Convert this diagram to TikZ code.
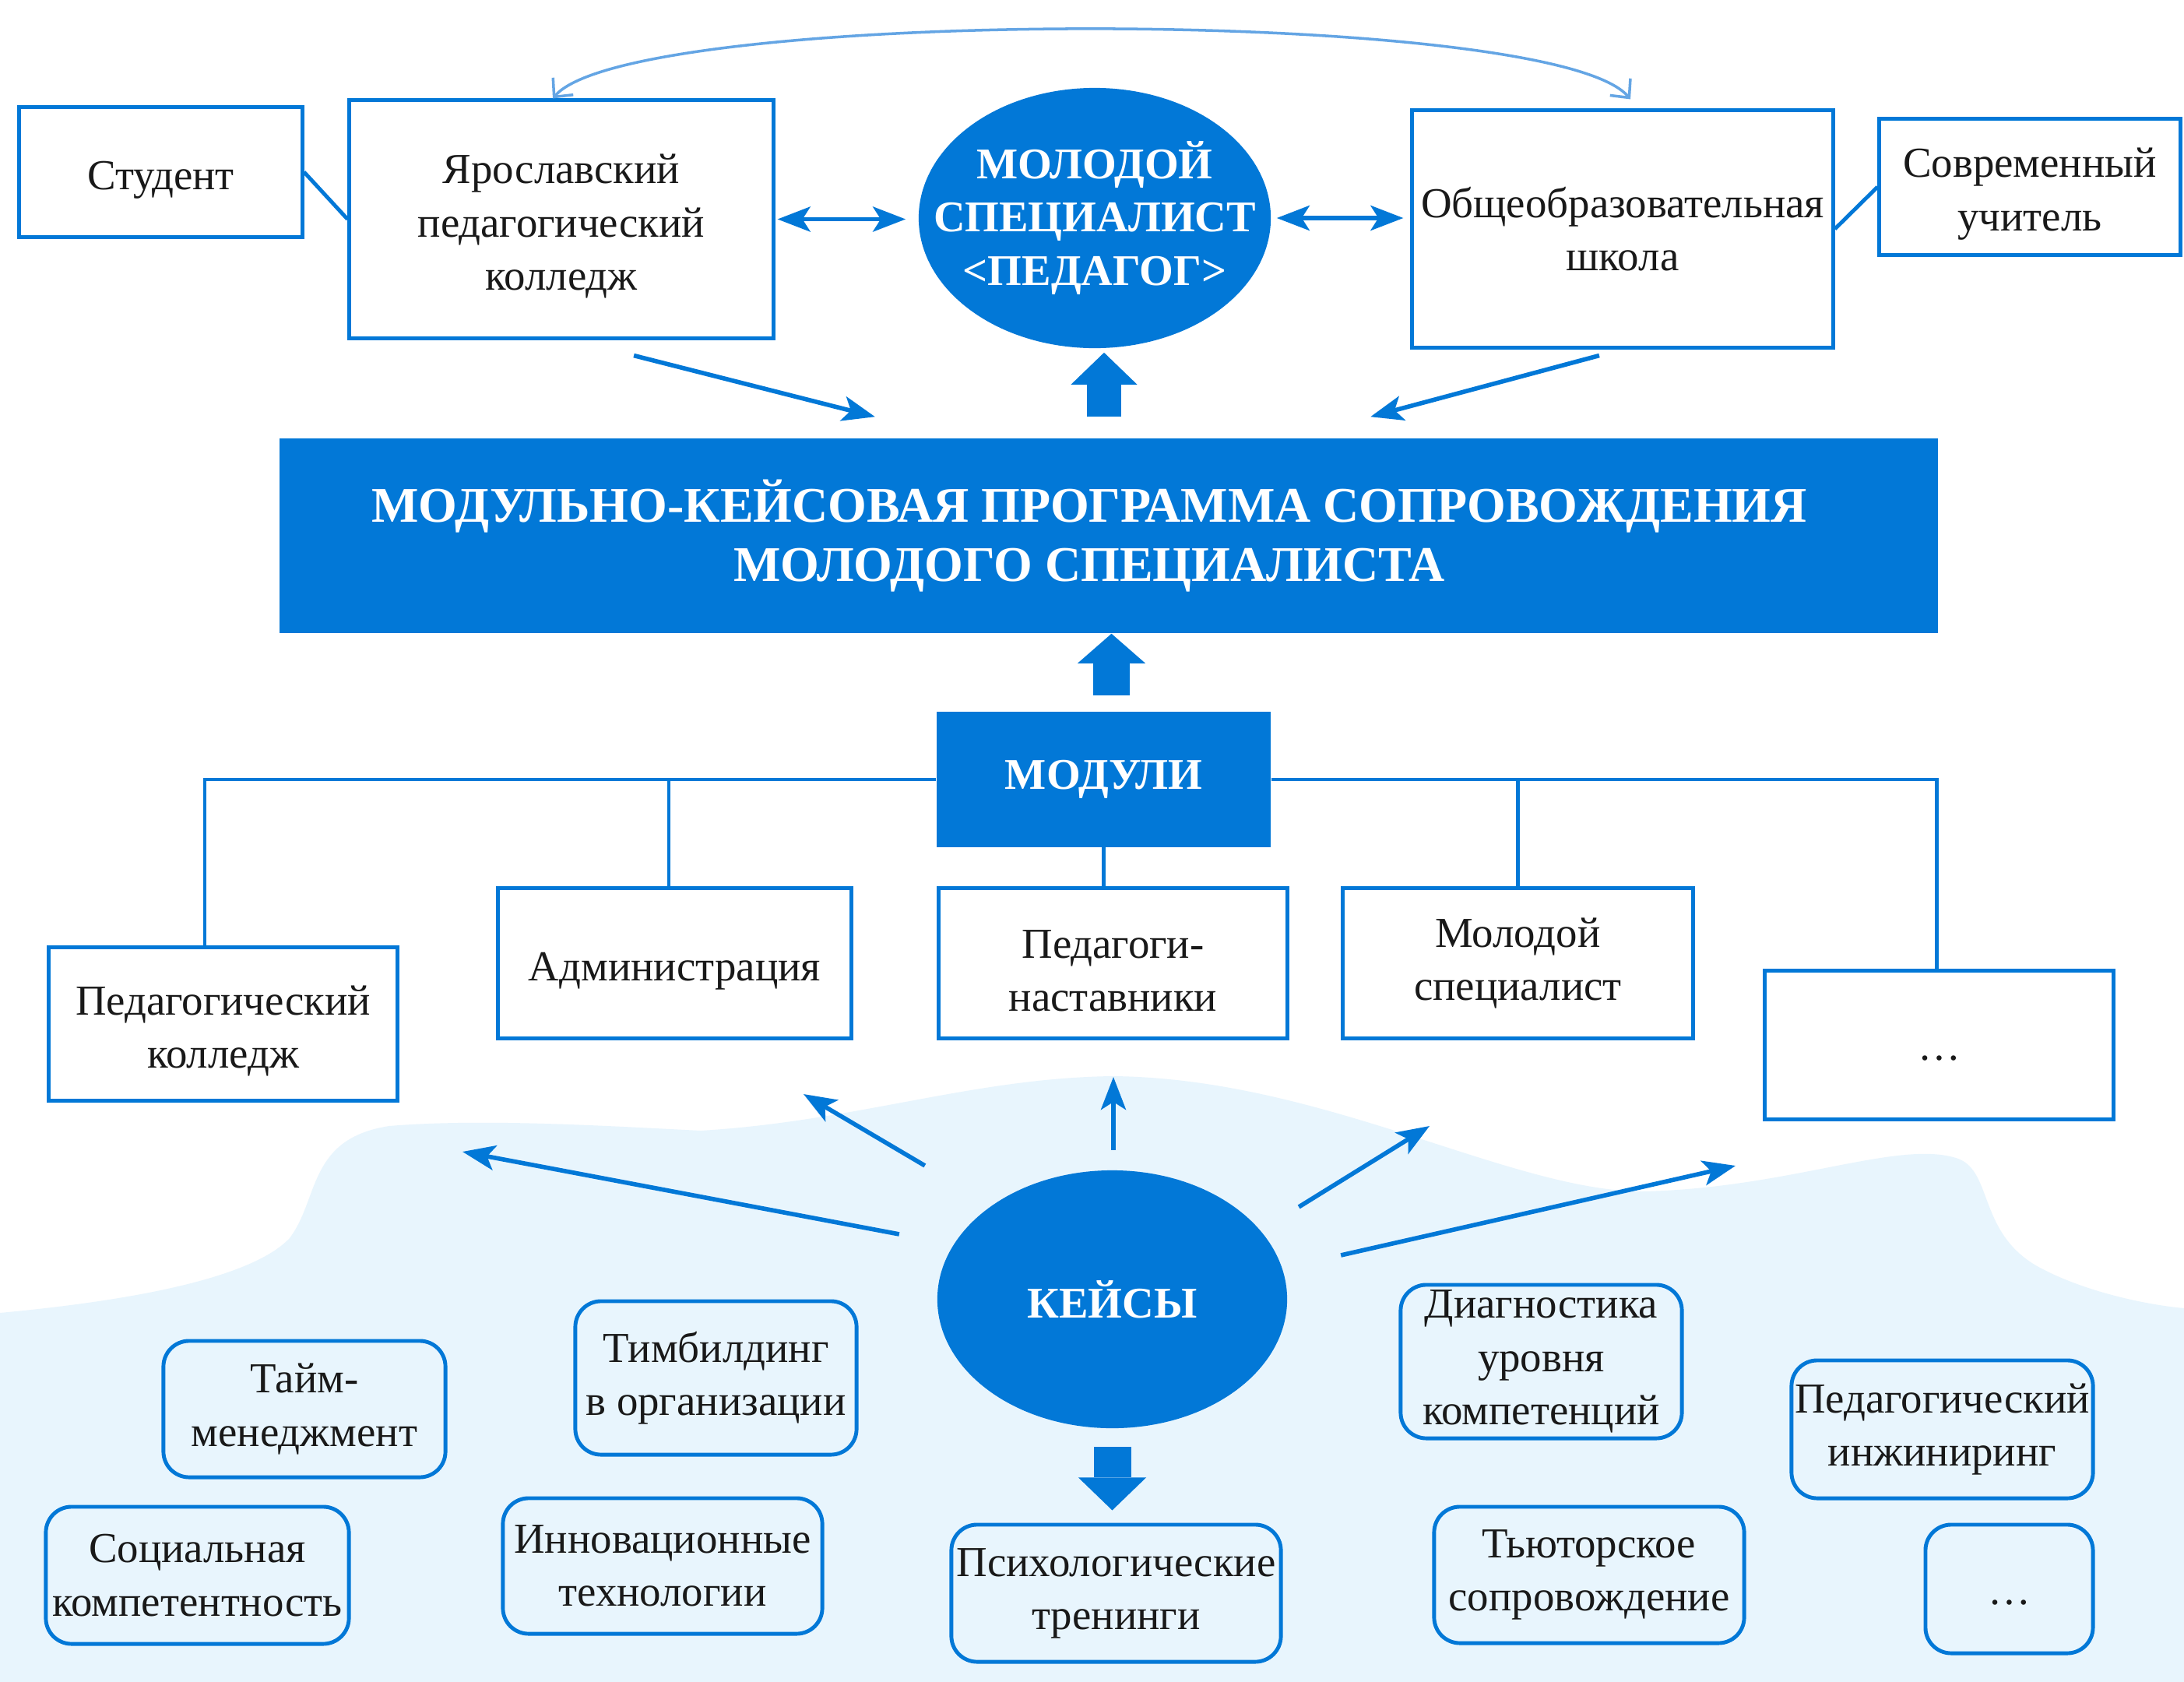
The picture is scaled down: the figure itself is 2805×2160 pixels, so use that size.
\documentclass[tikz,border=0pt]{standalone}
\usepackage{fontspec}
\setmainfont{Liberation Serif}
\usetikzlibrary{shapes.geometric,arrows.meta}
\definecolor{mblue}{RGB}{2,120,215}
\definecolor{cloudblue}{RGB}{232,245,253}
\definecolor{arcblue}{RGB}{100,165,228}
\definecolor{txt}{RGB}{25,25,25}
\newcommand\mytxt{\fontsize{15.6pt}{19.4pt}\selectfont}
\newcommand\mybold{\fontsize{16pt}{19.4pt}\selectfont\bfseries}
\newcommand\mybanner{\fontsize{18.2pt}{21.6pt}\selectfont\bfseries}
\newcommand\sA{\rule{0pt}{0.56cm}}
\newcommand\sD{\rule{0pt}{0.4cm}}
\tikzset{
  box/.style={draw=mblue, line width=1.4pt, fill=white, align=center, inner sep=0pt, font=\mytxt, text=txt},
  rbox/.style={draw=mblue, line width=1.4pt, rounded corners=0.33cm, align=center, inner sep=0pt, font=\mytxt, text=txt},
  bluebox/.style={fill=mblue, text=white, align=center, inner sep=0pt, font=\mybold},
  blueell/.style={ellipse, fill=mblue, text=white, align=center, inner sep=0pt, inner xsep=-0.6cm, font=\mybold},
  treeline/.style={draw=mblue, line width=1.4pt},
  arr/.style={draw=mblue, line width=1.6pt, -{Stealth[length=0.42cm,width=0.32cm,inset=0.1cm]}},
  dbl/.style={draw=mblue, line width=1.6pt, {Stealth[length=0.42cm,width=0.32cm,inset=0.1cm]}-{Stealth[length=0.42cm,width=0.32cm,inset=0.1cm]}},
  arcline/.style={draw=arcblue, line width=1pt, {Straight Barb[length=0.18cm,width=0.34cm]}-{Straight Barb[length=0.18cm,width=0.34cm]}},
  blockarr/.style n args={3}{draw=mblue, line width=#1, -{Triangle[length=#3,width=#2,line width=0pt]}}
}
\begin{document}
\begin{tikzpicture}[x=0.01cm,y=-0.01cm]
\useasboundingbox (0,0) rectangle (2805,2160);
\fill[white] (0,0) rectangle (2805,2160);
% light blue background region
\fill[cloudblue] (0,2160) -- (0,1686)
  .. controls (150,1672) and (320,1645) .. (372,1590)
  .. controls (410,1540) and (395,1462) .. (500,1446)
  .. controls (620,1436) and (780,1446) .. (900,1452)
  .. controls (1100,1440) and (1250,1384) .. (1430,1382)
  .. controls (1700,1385) and (1940,1530) .. (2110,1530)
  .. controls (2300,1526) and (2440,1462) .. (2515,1488)
  .. controls (2560,1505) and (2540,1585) .. (2620,1628)
  .. controls (2680,1660) and (2760,1676) .. (2805,1680)
  -- (2805,2160) -- cycle;

% top row
\node[box, minimum width=3.63cm, minimum height=1.66cm] (stud) at (206.5,221) {\sA Студент};
\node[box, minimum width=5.44cm, minimum height=3.05cm] (yar) at (721,281.5) {\sA Ярославский\\педагогический\\колледж};
\node[blueell, minimum width=4.52cm, minimum height=3.34cm] (ell1) at (1406,280) {МОЛОДОЙ\\СПЕЦИАЛИСТ\\<ПЕДАГОГ>};
\node[box, minimum width=5.40cm, minimum height=3.04cm] (school) at (2084,294) {Общеобразовательная\\школа};
\node[box, minimum width=3.86cm, minimum height=1.74cm] (teacher) at (2607,240) {\sA Современный\\учитель};

% banner
\node[bluebox, font=\mybanner, minimum width=21.28cm, minimum height=2.50cm] (banner) at (1424,688)
  {МОДУЛЬНО-КЕЙСОВАЯ ПРОГРАММА СОПРОВОЖДЕНИЯ\hspace*{0.5cm}\\МОЛОДОГО СПЕЦИАЛИСТА\hspace*{0.5cm}};

% modules
\node[bluebox, minimum width=4.29cm, minimum height=1.73cm] (mod) at (1417.5,1001) {МОДУЛИ};
\node[box, minimum width=4.47cm, minimum height=1.96cm] (m1) at (286.5,1315) {\sA Педагогический\\колледж};
\node[box, minimum width=4.53cm, minimum height=1.92cm] (m2) at (866.5,1237) {\sA Администрация};
\node[box, minimum width=4.47cm, minimum height=1.92cm] (m3) at (1429.5,1237) {\sA Педагоги-\\наставники};
\node[box, minimum width=4.49cm, minimum height=1.92cm] (m4) at (1949.5,1237) {Молодой\\специалист};
\node[box, minimum width=4.47cm, minimum height=1.90cm] (m5) at (2490.5,1342) {\sD …};

% cases
\node[blueell, minimum width=4.49cm, minimum height=3.31cm] (keysy) at (1428.5,1668.5) {КЕЙСЫ};
\node[rbox, minimum width=3.62cm, minimum height=1.75cm] (c1) at (391,1809.5) {Тайм-\\менеджмент};
\node[rbox, minimum width=3.61cm, minimum height=1.97cm] (c2) at (919.5,1769.5) {Тимбилдинг\\в организации};
\node[rbox, minimum width=3.89cm, minimum height=1.76cm] (c3) at (253.5,2023) {Социальная\\компетентность};
\node[rbox, minimum width=4.10cm, minimum height=1.74cm] (c4) at (851,2011) {Инновационные\\технологии};
\node[rbox, minimum width=4.23cm, minimum height=1.76cm] (c5) at (1433.5,2046) {Психологические\\тренинги};
\node[rbox, minimum width=3.61cm, minimum height=1.97cm] (c6) at (1979.5,1748.5) {Диагностика\\уровня\\компетенций};
\node[rbox, minimum width=3.87cm, minimum height=1.77cm] (c7) at (2494.5,1835.5) {Педагогический\\инжиниринг};
\node[rbox, minimum width=3.98cm, minimum height=1.75cm] (c8) at (2041,2022.5) {Тьюторское\\сопровождение};
\node[rbox, minimum width=2.15cm, minimum height=1.65cm] (c9) at (2580.5,2040.5) {\sD …};

% top connectors
\draw[treeline] (stud.east) -- (yar.west);
\draw[treeline] (school.east) -- (teacher.west);
\draw[dbl, shorten <=0.03cm, shorten >=0.16cm] (yar.east) -- (yar.east -| ell1.west);
\draw[dbl, shorten <=0.07cm, shorten >=0.09cm] (ell1.east) -- (ell1.east -| school.west);
\draw[arcline] ([xshift=-0.11cm]yar.north) .. controls (810,8) and (1995,8) .. ([xshift=0.1cm,yshift=0.12cm]school.north);
\draw[arr] ([xshift=0.93cm,yshift=-0.2cm]yar.south) -- ([xshift=-3.0cm,yshift=0.27cm]banner.north);
\draw[arr] ([xshift=-0.3cm,yshift=-0.08cm]school.south) -- ([xshift=3.36cm,yshift=0.27cm]banner.north);

% block arrows
\draw[blockarr={0.44cm}{0.85cm}{0.41cm}, shorten <=0.27cm, shorten >=0.05cm] ([xshift=-0.06cm]banner.north) -- ([xshift=-0.06cm]banner.north |- ell1.south);
\draw[blockarr={0.47cm}{0.87cm}{0.38cm}, shorten <=0.21cm] ([xshift=0.1cm]mod.north) -- ([xshift=0.1cm]mod.north |- banner.south);
\draw[blockarr={0.48cm}{0.87cm}{0.42cm}, shorten <=0.23cm, shorten >=0.16cm] (keysy.south) -- (keysy.south |- c5.north);

% tree of modules
\draw[treeline] (mod.west) -| ([xshift=-0.235cm]m1.north);
\draw[treeline] (mod.west) -| ([xshift=-0.075cm]m2.north);
\draw[treeline] (mod.south) -- (mod.south |- m3.north);
\draw[treeline] (mod.east) -| (m4.north);
\draw[treeline] (mod.east) -| ([xshift=-0.03cm]m5.north);

% arrows from cases
\coordinate (t1) at (594,1479);
\coordinate (t2) at (1032,1405);
\coordinate (t3) at (1430,1383);
\coordinate (t4) at (1836,1446);
\coordinate (t5) at (2229,1497);
\draw[arr] ([xshift=-2.735cm,yshift=0.835cm]keysy.center) -- (t1);
\draw[arr] ([xshift=-2.405cm,yshift=1.715cm]keysy.center) -- (t2);
\draw[arr] ([xshift=0.015cm,yshift=1.915cm]keysy.center) -- (t3);
\draw[arr] ([xshift=2.395cm,yshift=1.185cm]keysy.center) -- (t4);
\draw[arr] ([xshift=2.935cm,yshift=0.565cm]keysy.center) -- (t5);
\end{tikzpicture}
\end{document}
